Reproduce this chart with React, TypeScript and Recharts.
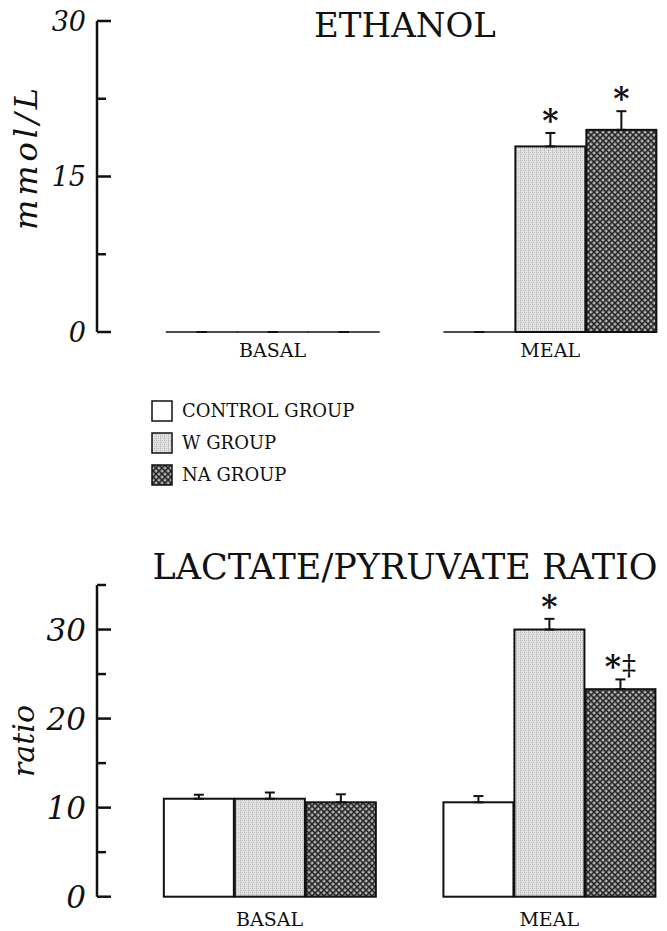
import React from "react";
import { BarChart, Bar, XAxis, YAxis, ErrorBar, LabelList } from "recharts";

const groups = ["BASAL", "MEAL"];
const seriesNames = ["CONTROL GROUP", "W GROUP", "NA GROUP"];
const seriesFills = ["#ffffff", "url(#wPat)", "url(#naPat)"];

// ethanol, mmol/L
const ethControl = [0, 0];
const ethW = [0, 17.9];
const ethNA = [0, 19.5];
const ethControlErr = [0, 0];
const ethWErr = [0, 1.3];
const ethNAErr = [0, 1.8];
const ethWSig = ["", "*"];
const ethNASig = ["", "*"];
const ethTicks = [0, 7.5, 15, 22.5, 30];

// lactate / pyruvate ratio
const lpControl = [11.0, 10.6];
const lpW = [11.0, 30.0];
const lpNA = [10.6, 23.3];
const lpControlErr = [0.45, 0.7];
const lpWErr = [0.7, 1.2];
const lpNAErr = [0.9, 1.1];
const lpWSig = ["", "*"];
const lpNASig = ["", "*\u2021"];
const lpTicks = [0, 5, 10, 15, 20, 25, 30, 35];

const FONT = "'DejaVu Serif', serif";
const INK = "#111";

function buildRows(c: number[], w: number[], n: number[], ce: number[], we: number[], ne: number[]) {
  return groups.map((g, i) => ({
    group: g,
    control: c[i],
    w: w[i],
    na: n[i],
    controlErr: [0, ce[i]],
    wErr: [0, we[i]],
    naErr: [0, ne[i]],
  }));
}

const ethRows = buildRows(ethControl, ethW, ethNA, ethControlErr, ethWErr, ethNAErr);
const lpRows = buildRows(lpControl, lpW, lpNA, lpControlErr, lpWErr, lpNAErr);

// bars with zero height still show as a flat line on the baseline
function OutlinedBar(props: any) {
  const { x, y, width, height, fill } = props;
  if (!height) {
    return <line x1={x - 1} x2={x + width + 1} y1={y} y2={y} stroke={INK} strokeWidth={1.6} />;
  }
  return <rect x={x} y={y} width={width} height={height} fill={fill} stroke={INK} strokeWidth={2} />;
}

function sigLabel(sig: string[], vals: number[], errs: number[]) {
  return (props: any) => {
    const vb = props.viewBox || props;
    const x = props.x ?? vb.x;
    const y = props.y ?? vb.y;
    const width = props.width ?? vb.width;
    const height = props.height ?? vb.height;
    const i = props.index;
    const s = sig[i];
    if (!s || !vals[i]) return null;
    const top = y - (errs[i] * Math.abs(height)) / vals[i];
    const cx = x + width / 2;
    return (
      <text x={cx} y={top - 2} textAnchor="middle" fill={INK} fontFamily={FONT}>
        <tspan fontSize={31} fontWeight="bold">{s[0]}</tspan>
        {s.length > 1 && <tspan fontSize={28} dx={1} dy={-2}>{s.slice(1)}</tspan>}
      </text>
    );
  };
}

function makeTick(labelEvery: number, fontSize: number) {
  return (props: any) => {
    const { x, y, payload } = props;
    const major = payload.value % labelEvery === 0;
    return (
      <g>
        <line x1={x} x2={x + (major ? 14 : 9)} y1={y} y2={y} stroke={INK} strokeWidth={2.5} />
        {major && (
          <text x={x - 11} y={y} dy="0.36em" textAnchor="end" fill={INK} fontFamily={FONT} fontStyle="italic" fontSize={fontSize}>
            {payload.value}
          </text>
        )}
      </g>
    );
  };
}

function Panel(props: {
  rows: any[];
  top: number;
  height: number;
  marginTop: number;
  xHeight: number;
  padLeft: number;
  tickMargin: number;
  domain: number[];
  ticks: number[];
  labelEvery: number;
  tickFont: number;
  sigs: { w: string[]; na: string[] };
  vals: { w: number[]; na: number[] };
  errs: { w: number[]; na: number[] };
}) {
  const p = props;
  return (
    <div style={{ position: "absolute", left: 0, top: p.top, width: 667, height: p.height, overflow: "hidden" }}>
      <BarChart
        width={700}
        height={p.height}
        data={p.rows}
        margin={{ top: p.marginTop, right: 11, left: 0, bottom: 0 }}
        barSize={70}
        barGap={1}
      >
        <XAxis
          dataKey="group"
          axisLine={false}
          tickLine={false}
          tickSize={0}
          tickMargin={p.tickMargin}
          height={p.xHeight}
          padding={{ left: p.padLeft, right: 0 }}
          interval={0}
          tick={{ fill: INK, fontSize: 19, fontFamily: FONT }}
        />
        <YAxis
          type="number"
          domain={p.domain}
          ticks={p.ticks}
          width={97}
          tickSize={0}
          tickMargin={0}
          tickLine={false}
          axisLine={{ stroke: INK, strokeWidth: 2.5 }}
          tick={makeTick(p.labelEvery, p.tickFont)}
          interval={0}
        />
        <Bar dataKey="control" name={seriesNames[0]} fill={seriesFills[0]} shape={OutlinedBar} isAnimationActive={false}>
          <ErrorBar dataKey="controlErr" direction="y" width={5} stroke={INK} strokeWidth={2} />
        </Bar>
        <Bar dataKey="w" name={seriesNames[1]} fill={seriesFills[1]} shape={OutlinedBar} isAnimationActive={false}>
          <ErrorBar dataKey="wErr" direction="y" width={5} stroke={INK} strokeWidth={2} />
          <LabelList dataKey="w" content={sigLabel(p.sigs.w, p.vals.w, p.errs.w)} />
        </Bar>
        <Bar dataKey="na" name={seriesNames[2]} fill={seriesFills[2]} shape={OutlinedBar} isAnimationActive={false}>
          <ErrorBar dataKey="naErr" direction="y" width={5} stroke={INK} strokeWidth={2} />
          <LabelList dataKey="na" content={sigLabel(p.sigs.na, p.vals.na, p.errs.na)} />
        </Bar>
      </BarChart>
    </div>
  );
}

export default function App() {
  return (
    <div style={{ position: "fixed", left: 0, top: 0, width: 667, height: 931, overflow: "hidden", background: "#fff" }}>
      <svg width={0} height={0} style={{ position: "absolute" }}>
        <defs>
          <pattern id="wPat" patternUnits="userSpaceOnUse" width={4} height={4}>
            <rect width={4} height={4} fill="#e8e8e8" />
            <rect x={0} y={0} width={1} height={4} fill="#c0c0c0" />
            <rect x={0} y={2} width={4} height={1} fill="#d0d0d0" />
            <rect x={2} y={0} width={1} height={1} fill="#aaaaaa" />
          </pattern>
          <pattern id="naPat" patternUnits="userSpaceOnUse" width={6} height={6}>
            <rect width={6} height={6} fill="#959595" />
            <path d="M0 0L6 6M6 0L0 6" stroke="#262626" strokeWidth={1.4} />
            <rect x={2.5} y={0} width={1} height={1} fill="#dddddd" />
            <rect x={0} y={2.5} width={1} height={1} fill="#dddddd" />
          </pattern>
        </defs>
      </svg>

      <Panel
        rows={ethRows}
        top={0}
        height={370}
        marginTop={21}
        xHeight={38}
        padLeft={36.75}
        tickMargin={12}
        domain={[0, 30]}
        ticks={ethTicks}
        labelEvery={15}
        tickFont={27}
        sigs={{ w: ethWSig, na: ethNASig }}
        vals={{ w: ethW, na: ethNA }}
        errs={{ w: ethWErr, na: ethNAErr }}
      />

      <Panel
        rows={lpRows}
        top={560}
        height={371}
        marginTop={25}
        xHeight={34.3}
        padLeft={32.85}
        tickMargin={15.5}
        domain={[0, 35]}
        ticks={lpTicks}
        labelEvery={10}
        tickFont={31}
        sigs={{ w: lpWSig, na: lpNASig }}
        vals={{ w: lpW, na: lpNA }}
        errs={{ w: lpWErr, na: lpNAErr }}
      />

      <svg width={667} height={931} style={{ position: "absolute", left: 0, top: 0, pointerEvents: "none" }}>
        <text x={405} y={37} textAnchor="middle" fontFamily={FONT} fontSize={34} fill={INK}>ETHANOL</text>
        <text x={405} y={579} textAnchor="middle" fontFamily={FONT} fontSize={35} fill={INK}>LACTATE/PYRUVATE RATIO</text>
        <text transform="translate(37,157) rotate(-90)" textAnchor="middle" fontFamily={FONT} fontStyle="italic" fontSize={32} letterSpacing={4} fill={INK}>mmol/L</text>
        <text transform="translate(34,741) rotate(-90)" textAnchor="middle" fontFamily={FONT} fontStyle="italic" fontSize={30} fill={INK}>ratio</text>
        {seriesNames.map((name, i) => (
          <g key={name}>
            <rect x={152} y={401 + i * 32} width={20} height={20} fill={seriesFills[i]} stroke={INK} strokeWidth={1.5} />
            <text x={182} y={417 + i * 32} fontFamily={FONT} fontSize={18} fill={INK}>{name}</text>
          </g>
        ))}
      </svg>
    </div>
  );
}
